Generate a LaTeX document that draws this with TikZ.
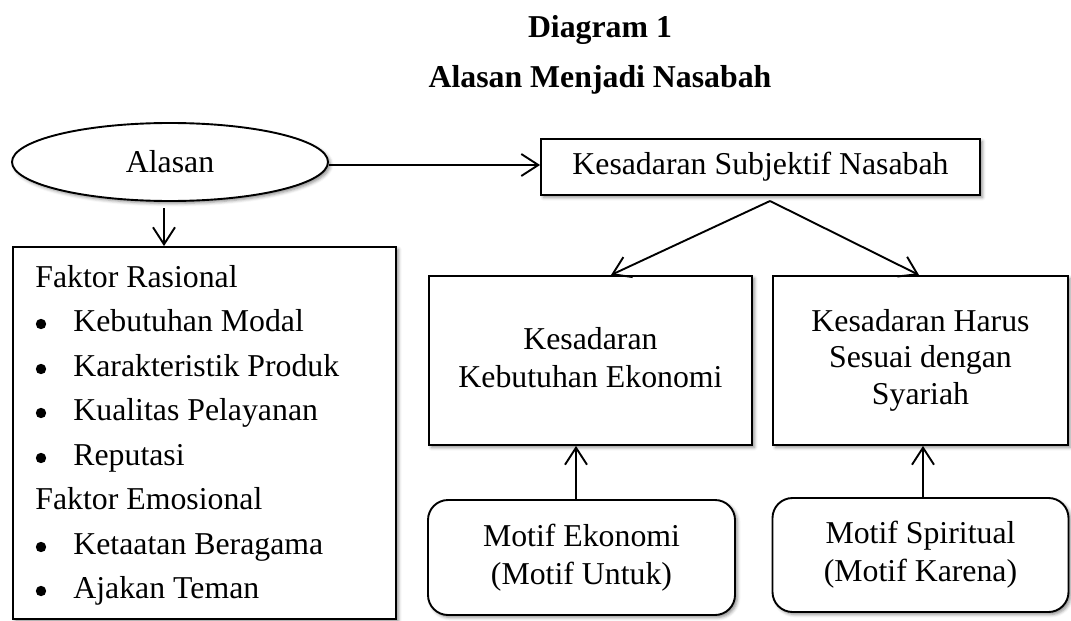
\documentclass[tikz,border=0pt]{standalone}
\usepackage{fontspec}
\setmainfont{Liberation Serif}
\usetikzlibrary{arrows.meta,shapes.geometric,shadows.blur,calc}

\tikzset{
  txt/.style={font=\fontsize{15.9}{19}\selectfont, inner sep=0pt},
  shade/.style={blur shadow={shadow xshift=1.2pt, shadow yshift=-1.2pt,
      shadow blur radius=1.6pt, shadow opacity=45}},
  box/.style={draw, line width=0.95pt, fill=white, shade, txt, align=center},
  rbox/.style={box, rounded corners=10pt},
  oval/.style={ellipse, draw, line width=0.95pt, fill=white, shade, txt},
  arr/.style={line width=0.95pt, -{Straight Barb[length=8.5pt,width=11pt,line width=0.95pt]}},
  line/.style={txt, anchor=base west},
  dot/.style={circle, fill=black, inner sep=0pt, minimum size=5.2pt}
}
% centred block of lines, shifted down by #1
\newcommand{\lowered}[2]{\raisebox{-#1}{\begin{tabular}{@{}c@{}}#2\end{tabular}}}

\begin{document}
\begin{tikzpicture}[x=0.5pt, y=-0.5pt]
  \useasboundingbox (0,0) rectangle (1071,621);

  % titles
  \node[txt, anchor=base, font=\fontsize{15.9}{19}\selectfont\bfseries] (title) at (600,37) {Diagram 1};
  \node[txt, anchor=base, font=\fontsize{15.9}{19}\selectfont\bfseries] (subtitle) at (600,87) {Alasan Menjadi Nasabah};

  % top row
  \node[oval, minimum width=158pt, minimum height=39pt] (alasan) at (170,162) {Alasan};
  \node[box, minimum width=219.5pt, minimum height=28pt] (ksub) at (760.5,167) {Kesadaran Subjektif Nasabah};

  % factor list
  \node[box, minimum width=191.5pt, minimum height=186pt] (lbox) at (204.5,433) {};
  \node[line] (fr) at (35,287) {Faktor Rasional};
  \node[dot] (b1) at (41,324) {};
  \node[line] (r1) at (73,331) {Kebutuhan Modal};
  \node[dot] (b2) at (41,369) {};
  \node[line] (r2) at (73,376) {Karakteristik Produk};
  \node[dot] (b3) at (41,413) {};
  \node[line] (r3) at (73,420) {Kualitas Pelayanan};
  \node[dot] (b4) at (41,458) {};
  \node[line] (r4) at (73,465) {Reputasi};
  \node[line] (fe) at (35,509) {Faktor Emosional};
  \node[dot] (b5) at (41,547) {};
  \node[line] (e1) at (73,554) {Ketaatan Beragama};
  \node[dot] (b6) at (41,591) {};
  \node[line] (e2) at (73,598) {Ajakan Teman};

  % awareness boxes
  \node[box, minimum width=161.5pt, minimum height=84.5pt] (kek) at (590.5,360.5) {\lowered{0.8pt}{Kesadaran\\Kebutuhan Ekonomi}};
  \node[box, minimum width=147.5pt, minimum height=84.5pt, font=\fontsize{15.9}{18.4}\selectfont] (ksy) at (920.5,360.5) {\lowered{1.5pt}{Kesadaran Harus\\Sesuai dengan\\Syariah}};

  % motive boxes
  \node[rbox, minimum width=153.5pt, minimum height=57.5pt] (mek) at (581.5,557.5) {\lowered{4pt}{Motif Ekonomi\\(Motif Untuk)}};
  \node[rbox, minimum width=148pt, minimum height=57pt] (msp) at (920.5,555) {\lowered{2pt}{Motif Spiritual\\(Motif Karena)}};

  % connectors
  \draw[arr] ([yshift=-1.5pt]alasan.east) -- ([yshift=-1.5pt]alasan.east -| ksub.west);
  \coordinate (down) at (164,208);
  \draw[arr] (down) -- (down |- lbox.north);

  \coordinate (apex) at (770,201);
  \coordinate (tipl) at (611,275);
  \coordinate (tipr) at (919,275);
  \draw[arr] (apex) -- (tipl);
  \draw[arr] (apex) -- (tipr);

  \coordinate (upl) at (576,0);
  \coordinate (upr) at (923,0);
  \draw[arr] (mek.north -| upl) -- (kek.south -| upl);
  \draw[arr] (msp.north -| upr) -- (ksy.south -| upr);
\end{tikzpicture}
\end{document}
